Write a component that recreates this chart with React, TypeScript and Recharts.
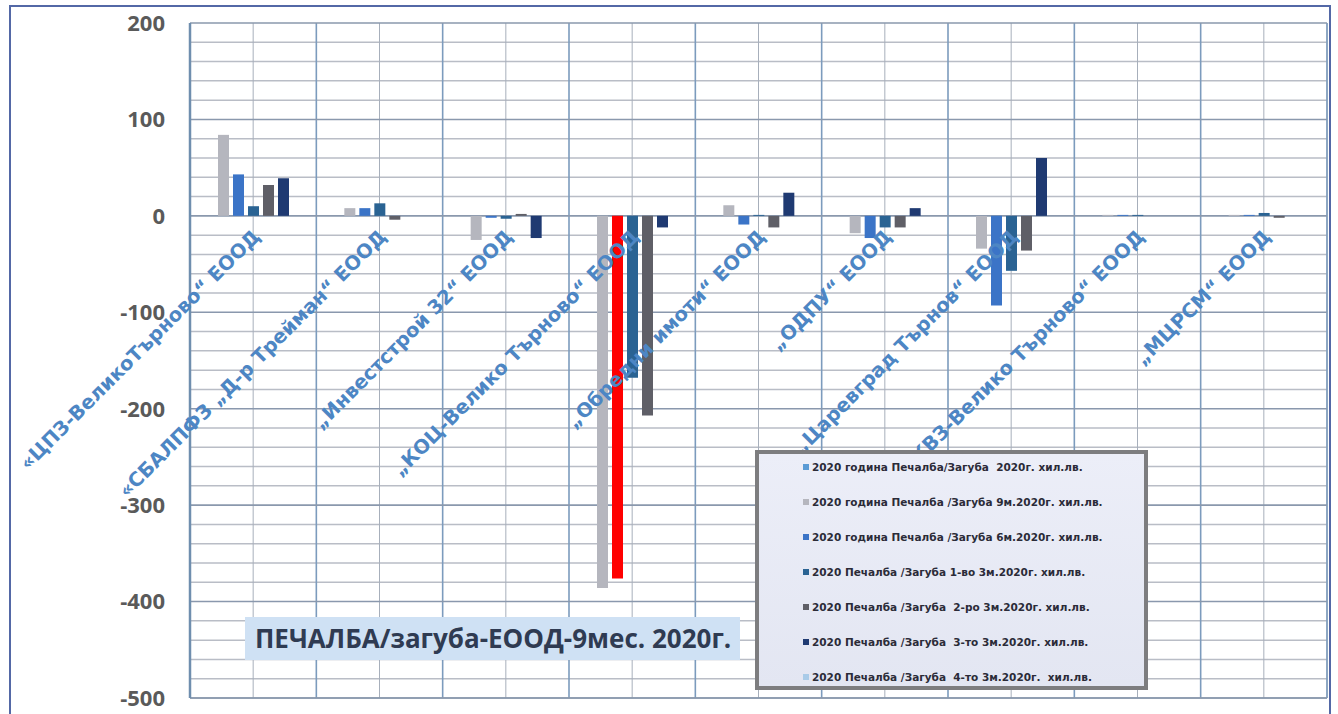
import React from "react";
import { BarChart, Bar, XAxis, YAxis, CartesianGrid, Legend, Cell } from "recharts";

const CATEGORIES = [
  "«ЦПЗ-ВеликоТърново“ ЕООД",
  "«СБАЛПФЗ „Д-р Трейман“ ЕООД",
  "„Инвестстрой 32“ ЕООД",
  "„КОЦ-Велико Търново“ ЕООД",
  "„Обредни имоти“ ЕООД",
  "„ОДПУ“ ЕООД",
  "„Царевград Търнов“ ЕООД",
  "„КВЗ-Велико Търново“ ЕООД",
  "„МЦРСМ“ ЕООД",
];

// хил.лв.
const YEAR_2020 = [null, null, null, null, null, null, null, null, null];
const NINE_M = [84, 8, -25, -386, 11, -18, -34, 1, 1];
const SIX_M = [43, 8, -2, -376, -9, -23, -93, 1, 1];
const Q1 = [10, 13, -3, -168, 1, -12, -57, 1, 3];
const Q2 = [32, -4, 2, -207, -12, -12, -36, 0, -2];
const Q3 = [39, 0, -23, -12, 24, 8, 60, 0, 0];
const Q4 = [null, null, null, null, null, null, null, null, null];

const Y_TICKS = [200, 100, 0, -100, -200, -300, -400, -500];
const MINOR_TICKS = [180, 160, 140, 120, 80, 60, 40, 20, -20, -40, -60, -80, -120, -140, -160, -180,
  -220, -240, -260, -280, -320, -340, -360, -380, -420, -440, -460, -480];
const Y_MIN = -500;
const Y_MAX = 200;

const HIGHLIGHT = "„КОЦ-Велико Търново“ ЕООД";

const SERIES = [
  { key: "y2020", name: "2020 година Печалба/Загуба  2020г. хил.лв.", color: "#5b9bd5", values: YEAR_2020 },
  { key: "m9", name: "2020 година Печалба /Загуба 9м.2020г. хил.лв.", color: "#b5b6be", values: NINE_M },
  { key: "m6", name: "2020 година Печалба /Загуба 6м.2020г. хил.лв.", color: "#3b74c7", values: SIX_M },
  { key: "q1", name: "2020 Печалба /Загуба 1-во 3м.2020г. хил.лв.", color: "#2a6393", values: Q1 },
  { key: "q2", name: "2020 Печалба /Загуба  2-ро 3м.2020г. хил.лв.", color: "#5f5f67", values: Q2 },
  { key: "q3", name: "2020 Печалба /Загуба  3-то 3м.2020г. хил.лв.", color: "#1f3a72", values: Q3 },
  { key: "q4", name: "2020 Печалба /Загуба  4-то 3м.2020г.  хил.лв.", color: "#a9cbe8", values: Q4 },
];

const data = CATEGORIES.map((name, i) => {
  const row: any = { name };
  SERIES.forEach((s) => (row[s.key] = s.values[i]));
  return row;
});

const W = 1338;
const H = 714;
const MARGIN = { top: 23, right: 11, bottom: 0, left: 120 };
const X_AXIS_H = 16;
const PLOT_H = H - MARGIN.top - MARGIN.bottom - X_AXIS_H;
const ZERO_Y = MARGIN.top + (PLOT_H * Y_MAX) / (Y_MAX - Y_MIN);

const CategoryTick = (props: any) => {
  const { x, payload } = props;
  const ax = x + 8;
  const ay = ZERO_Y + 22;
  return (
    <text
      x={ax}
      y={ay}
      transform={`rotate(-45 ${ax} ${ay})`}
      textAnchor="end"
      fill="#4d86c4"
      fontFamily="DejaVu Sans"
      fontWeight={700}
      fontSize={19.5}
    >
      {payload.value}
    </text>
  );
};

const LegendBox = () => (
  <div
    style={{
      width: 393,
      height: 240,
      boxSizing: "border-box",
      border: "4px solid #7d7d7f",
      background: "linear-gradient(180deg, #eceef8 0%, #e3e6f2 100%)",
      padding: "0 0 0 44px",
      overflow: "hidden",
    }}
  >
    <div style={{ marginTop: -5 }}>
      {SERIES.map((s) => (
        <div
          key={s.key}
          style={{
            height: 35,
            display: "flex",
            alignItems: "center",
            fontFamily: "DejaVu Sans",
            fontWeight: 700,
            fontSize: 10.5,
            color: "#2b2b38",
            whiteSpace: "pre",
          }}
        >
          <span style={{ width: 6, height: 6, background: s.color, marginRight: 3, display: "inline-block" }} />
          {s.name}
        </div>
      ))}
    </div>
  </div>
);

export default function App() {
  return (
    <div style={{ position: "absolute", left: 0, top: 0, width: W, height: H, background: "#ffffff", overflow: "hidden" }}>
      <BarChart width={W} height={H} data={data} margin={MARGIN} barSize={11} barGap={4}>
        <CartesianGrid horizontalValues={MINOR_TICKS} vertical={false} stroke="#b9bdc6" strokeWidth={1.5} />
        <CartesianGrid horizontal={false} stroke="#a7afbb" strokeWidth={1} />
        <CartesianGrid
          horizontal={false}
          stroke="#7c9bbd"
          strokeWidth={1.6}
          verticalCoordinatesGenerator={({ offset }: any) =>
            CATEGORIES.map((_, i) => offset.left + (offset.width * i) / CATEGORIES.length).concat(offset.left + offset.width)
          }
        />
        <CartesianGrid vertical={false} stroke="#8a98ad" strokeWidth={1.6} />
        <XAxis
          dataKey="name"
          height={X_AXIS_H}
          interval={0}
          tickLine={false}
          axisLine={{ stroke: "#8a98ad", strokeWidth: 1.6 }}
          tick={(p: any) => <CategoryTick {...p} />}
        />
        <YAxis
          width={70}
          domain={[Y_MIN, Y_MAX]}
          ticks={Y_TICKS}
          interval={0}
          tickLine={false}
          tickSize={0}
          tickMargin={25}
          axisLine={{ stroke: "#6f8eae", strokeWidth: 2.5 }}
          tick={{ fill: "#5a5a5a", fontSize: 22, fontWeight: 700, fontFamily: "Open Sans" }}
        />
        <Legend
          layout="vertical"
          align="center"
          verticalAlign="middle"
          wrapperStyle={{ left: 755, top: 450, width: 393, height: 240 }}
          content={() => <LegendBox />}
        />
        {SERIES.map((s) => (
          <Bar key={s.key} dataKey={s.key} name={s.name} fill={s.color} isAnimationActive={false}>
            {s.key === "m6" &&
              data.map((d) => <Cell key={d.name} fill={d.name === HIGHLIGHT ? "#ff0000" : s.color} />)}
          </Bar>
        ))}
      </BarChart>
      <div
        style={{
          position: "absolute",
          left: 245,
          top: 617,
          width: 495,
          height: 43,
          background: "#cfe1f4",
          color: "#2f3b52",
          fontFamily: "Open Sans",
          fontWeight: 700,
          fontSize: 26,
          lineHeight: "43px",
          paddingLeft: 10,
          boxSizing: "border-box",
          whiteSpace: "nowrap",
          overflow: "hidden",
        }}
      >
        ПЕЧАЛБА/загуба-ЕООД-9мес. 2020г.
      </div>
      <div
        style={{
          position: "absolute",
          left: 9,
          top: 5,
          width: 1322,
          height: 730,
          boxSizing: "border-box",
          border: "2px solid #5368a6",
          pointerEvents: "none",
        }}
      />
    </div>
  );
}
